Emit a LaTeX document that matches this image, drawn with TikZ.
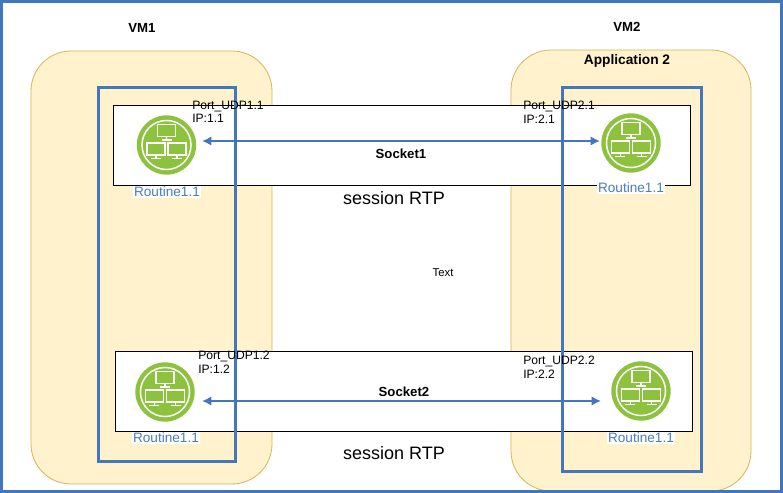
\documentclass[tikz,border=0pt]{standalone}
\usepackage{fontspec}
\setmainfont{Liberation Sans}
\definecolor{bl}{HTML}{4377BD}
\definecolor{yf}{HTML}{FFF2CC}
\definecolor{ye}{HTML}{D6B656}
\definecolor{gr}{HTML}{8DC23F}
\definecolor{lb}{HTML}{4A7EBF}
\usetikzlibrary{arrows.meta}
\tikzset{
 vm/.style={draw=ye,fill=yf,line width=.6pt,rounded corners=30pt},
 sess/.style={draw=black,fill=white,line width=.75pt},
 app/.style={draw=bl,line width=2.25pt},
 lab/.style={font=\fontsize{9.1}{10.2}\selectfont,inner sep=0pt,align=left},
 blab/.style={font=\bfseries\fontsize{9.9}{11}\selectfont,inner sep=0pt},
 rt/.style={font=\fontsize{10.2}{11}\selectfont,text=lb,fill=white,inner sep=.5pt},
 sr/.style={font=\fontsize{13.5}{15}\selectfont,inner sep=0pt},
 link/.style={draw=bl,line width=1.3pt,{Latex[length=7pt,width=7pt]}-{Latex[length=7pt,width=7pt]}},
 mon/.style={draw=white,line width=1.1pt,fill=gr},
}
\newcommand{\netico}[3]{%
 \node[circle,fill=gr,minimum size=44.5pt,inner sep=0pt] (#3) at (#1,#2) {};
 \draw[white,line width=1.1pt] (#1,#2) circle (18.4pt);
 \foreach \dx/\dy in {0/-14.5,-10.7/4,10.7/4}{
  \begin{scope}[shift={(#1+\dx,#2+\dy)}]
   \draw[mon] (-9,-6) rectangle (9,6);
   \draw[white,line width=1.1pt] (0,6) -- (0,9.5);
   \draw[white,line width=1.3pt] (-5,9.6) -- (5,9.6);
  \end{scope}}
}
\begin{document}
\begin{tikzpicture}[x=.75pt,y=-.75pt]
\useasboundingbox (0,0) rectangle (783,493);
\fill[white] (0,0) rectangle (783,493);
\draw[vm] (31,51) rectangle (272,484);
\draw[vm] (511,50) rectangle (751,491);
\draw[sess] (113,105) rectangle (690,185);
\draw[sess] (115,351) rectangle (692,431);
\netico{166.5}{145}{a}
\netico{631}{143}{b}
\netico{165}{392}{c}
\netico{641}{391}{d}
\coordinate (a1) at (202,141);
\coordinate (b1) at (600,141);
\coordinate (c1) at (202,401);
\coordinate (d1) at (601,401);
\draw[link] (a1) -- (b1);
\draw[link] (c1) -- (d1);
\draw[app] (98,87) rectangle (235,461);
\draw[app] (562,87) rectangle (701,471);
\draw[draw=bl,line width=2.25pt] (1.5,1.5) rectangle (781.5,491.5);
\node[blab] (vm1) at (142,28) {VM1};
\node[blab] (vm2) at (627,27) {VM2};
\node[blab,font=\bfseries\fontsize{10.3}{11}\selectfont] (ap2) at (627,61) {Application 2};
\node[lab,anchor=west] (p11) at (192,112) {Port\_UDP1.1\\IP:1.1};
\node[lab,anchor=west] (p21) at (523,112) {Port\_UDP2.1\\IP:2.1};
\node[lab,anchor=west] (p12) at (198,362) {Port\_UDP1.2\\IP:1.2};
\node[lab,anchor=west] (p22) at (523,367) {Port\_UDP2.2\\IP:2.2};
\node[blab] (s1) at (401,154) {Socket1};
\node[blab] (s2) at (404,392) {Socket2};
\node[rt] (r1) at (167,192) {Routine1.1};
\node[rt] (r2) at (631,188) {Routine1.1};
\node[rt] (r3) at (166,438) {Routine1.1};
\node[rt] (r4) at (641,438) {Routine1.1};
\node[sr] (t1) at (394,198) {session RTP};
\node[sr] (t2) at (394,453) {session RTP};
\node[font=\fontsize{8.5}{10}\selectfont,inner sep=0pt] (tx) at (443,273) {Text};
\end{tikzpicture}
\end{document}
